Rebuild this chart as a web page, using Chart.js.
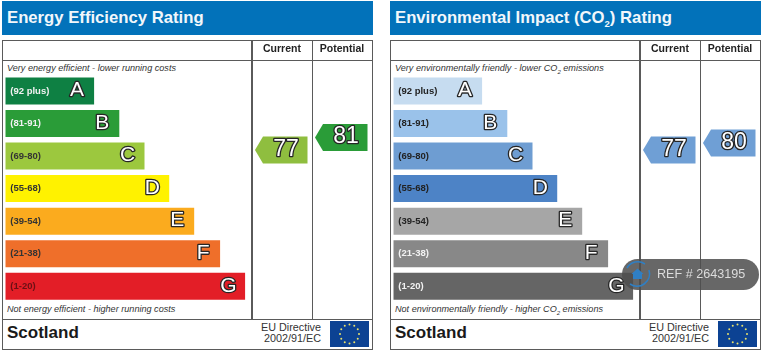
<!DOCTYPE html>
<html>
<head>
<meta charset="utf-8">
<title>EPC ratings</title>
<script src="https://cdn.jsdelivr.net/npm/chart.js@4"></script>
<style>
  html, body { margin: 0; padding: 0; background: #fff; }
  body { width: 768px; height: 355px; overflow: hidden; position: relative; font-family: "Liberation Sans", Arial, sans-serif; }
  .panel { position: absolute; top: 0; width: 375px; height: 355px; }
  .head { position: absolute; left: 2px; top: 1px; width: 371px; height: 34px; background: #0272ba; color: #f2f7fb; font-weight: bold; font-size: 16.7px; line-height: 33px; text-indent: 5px; white-space: nowrap; }
  .head sub { font-size: 9.5px; line-height: 0; }
  .frame { position: absolute; left: 2px; top: 40px; width: 369px; height: 308px; border: 1.5px solid #5a5a5a; }
  .line { position: absolute; background: #5a5a5a; }
  .note { position: absolute; left: 7px; font-style: italic; font-size: 9.1px; color: #333; white-space: nowrap; }
  .note sub { font-size: 6px; line-height: 0; }
  .nation { position: absolute; left: 7px; top: 323px; font-weight: bold; font-size: 17px; color: #1a1a1a; }
  .directive { position: absolute; right: 54px; top: 322px; font-size: 10.8px; line-height: 11px; text-align: right; color: #333; }
  .flag { position: absolute; left: 330px; top: 321px; width: 39px; height: 26px; }
  canvas { position: absolute; }
  .ref { position: absolute; left: 622px; top: 259px; width: 137px; height: 31px; border-radius: 16px; background: rgba(78,78,78,.86); color: #dcdcdc; font-size: 12.6px; line-height: 31px; text-indent: 35px; white-space: nowrap; }
  .ref svg { position: absolute; left: 0; top: 0; }
</style>
</head>
<body>
<script>
const bandRanges = ['(92 plus)', '(81-91)', '(69-80)', '(55-68)', '(39-54)', '(21-38)', '(1-20)'];
const bandLetters = ['A', 'B', 'C', 'D', 'E', 'F', 'G'];
const barLengths = [37, 47.5, 58, 68.3, 78.7, 89.5, 100];
const columnLabels = ['Current', 'Potential'];
const energyScores = [77, 81];
const environmentScores = [77, 80];

const energyBarColors = ['#0e8043', '#2a9c38', '#9cc83e', '#fff200', '#fbab1e', '#ef6f2a', '#e31e27'];
const energyRangeColors = ['#f2f2f2', '#f2f2f2', '#333', '#333', '#333', '#333', '#6b1015'];
const energyArrowColors = ['#8fbe3f', '#2a9c38'];
const envBarColors = ['#c6dcf0', '#9ac2ea', '#6e9dd2', '#4d83c6', '#a6a6a6', '#888888', '#656565'];
const envRangeColors = ['#222', '#222', '#222', '#222', '#222', '#f2f2f2', '#f2f2f2'];
const envArrowColors = ['#6f9fd5', '#6f9fd5'];

const FONT = '"Liberation Sans", Arial, sans-serif';

function outlinedText(ctx, text, x, y, size) {
    ctx.save();
    ctx.font = `${size}px ${FONT}`;
    ctx.textAlign = 'center';
    ctx.textBaseline = 'middle';
    ctx.lineJoin = 'round';
    ctx.lineWidth = 2.6;
    ctx.strokeStyle = '#262626';
    ctx.strokeText(text, x, y);
    ctx.fillStyle = '#fff';
    ctx.fillText(text, x, y);
    ctx.restore();
}

// letters at the end of each bar
const letterPlugin = {
    id: 'letters',
    afterDatasetsDraw(chart) {
        chart.getDatasetMeta(0).data.forEach((bar, i) => {
            outlinedText(chart.ctx, bandLetters[i], bar.x - 17, bar.y - 0.5, 21);
        });
    }
};

// score arrows in the Current / Potential columns
const arrowPlugin = {
    id: 'arrows',
    afterDatasetsDraw(chart, args, opts) {
        const ctx = chart.ctx;
        const dataset = chart.data.datasets[0];
        chart.getDatasetMeta(0).data.forEach((pt, i) => {
            const left = pt.x - 27, right = pt.x + 25.5, top = pt.y - 13.5, bottom = pt.y + 13.5;
            ctx.beginPath();
            ctx.moveTo(left, pt.y);
            ctx.lineTo(left + 8, top);
            ctx.lineTo(right, top);
            ctx.lineTo(right, bottom);
            ctx.lineTo(left + 8, bottom);
            ctx.closePath();
            ctx.fillStyle = opts.colors[i];
            ctx.fill();
            outlinedText(ctx, String(dataset.data[i]), pt.x + 4, pt.y - 0.5, 23);
        });
    }
};

function addPanel(left, cfg) {
    const panel = document.createElement('div');
    panel.className = 'panel';
    panel.style.left = left + 'px';
    panel.innerHTML = `
      <div class="head">${cfg.title}</div>
      <div class="frame"></div>
      <div class="line" style="left:3px;top:59.5px;width:369px;height:1.5px"></div>
      <div class="line" style="left:3px;top:318.5px;width:369px;height:1.5px"></div>
      <div class="line" style="left:251px;top:41px;width:1.5px;height:278px"></div>
      <div class="line" style="left:311.5px;top:41px;width:1.5px;height:278px"></div>
      <div class="note" style="top:63px">${cfg.topNote}</div>
      <div class="note" style="top:303.5px">${cfg.bottomNote}</div>
      <div class="nation">Scotland</div>
      <div class="directive">EU Directive<br>2002/91/EC</div>`;
    panel.appendChild(makeFlag());

    const barCanvas = document.createElement('canvas');
    barCanvas.width = 248; barCanvas.height = 258;
    barCanvas.style.left = '3px'; barCanvas.style.top = '61px';
    panel.appendChild(barCanvas);

    const arrowCanvas = document.createElement('canvas');
    arrowCanvas.width = 120; arrowCanvas.height = 278;
    arrowCanvas.style.left = '252px'; arrowCanvas.style.top = '41px';
    panel.appendChild(arrowCanvas);
    document.body.appendChild(panel);

    new Chart(barCanvas, {
        type: 'bar',
        data: {
            labels: bandRanges,
            datasets: [{
                data: barLengths,
                backgroundColor: cfg.barColors,
                categoryPercentage: 0.83,
                barPercentage: 1
            }]
        },
        options: {
            indexAxis: 'y',
            responsive: false,
            animation: false,
            layout: { padding: { left: 2.3, right: 5.7, top: 13.7, bottom: 16.5 } },
            plugins: { legend: { display: false }, tooltip: { enabled: false } },
            scales: {
                x: { display: false, min: 0, max: 100 },
                y: {
                    border: { display: false },
                    grid: { display: false, drawTicks: false },
                    afterFit: scale => { scale.width = 0; },
                    ticks: {
                        mirror: true,
                        padding: 5,
                        z: 1,
                        font: { family: FONT, size: 9.5, weight: 'bold' },
                        color: c => cfg.rangeColors[c.index]
                    }
                }
            }
        },
        plugins: [letterPlugin]
    });

    new Chart(arrowCanvas, {
        type: 'line',
        data: {
            labels: columnLabels,
            datasets: [{ data: cfg.scores, showLine: false, pointRadius: 0 }]
        },
        options: {
            responsive: false,
            animation: false,
            layout: { padding: 0 },
            plugins: {
                legend: { display: false },
                tooltip: { enabled: false },
                arrows: { colors: cfg.arrowColors }
            },
            scales: {
                x: {
                    position: 'top',
                    offset: true,
                    border: { display: false },
                    grid: { display: false, drawTicks: false },
                    afterFit: scale => { scale.height = 19; },
                    ticks: {
                        padding: 5,
                        maxRotation: 0,
                        font: { family: FONT, size: 10.5, weight: 'bold' },
                        color: '#222'
                    }
                },
                y: { display: false, min: cfg.scoreMin, max: cfg.scoreMax }
            }
        },
        plugins: [arrowPlugin]
    });
}

function makeFlag() {
    const ns = 'http://www.w3.org/2000/svg';
    const svg = document.createElementNS(ns, 'svg');
    svg.setAttribute('class', 'flag');
    svg.setAttribute('viewBox', '0 0 39 26');
    svg.innerHTML = '<rect width="39" height="26" fill="#0c4293"/>';
    for (let i = 0; i < 12; i++) {
        const a = i * Math.PI / 6;
        const dot = document.createElementNS(ns, 'circle');
        dot.setAttribute('cx', 19.5 + 9.5 * Math.cos(a));
        dot.setAttribute('cy', 13 + 9.5 * Math.sin(a));
        dot.setAttribute('r', 1);
        dot.setAttribute('fill', '#e9e26a');
        svg.appendChild(dot);
    }
    return svg;
}

addPanel(0, {
    title: 'Energy Efficiency Rating',
    topNote: 'Very energy efficient - lower running costs',
    bottomNote: 'Not energy efficient - higher running costs',
    barColors: energyBarColors,
    rangeColors: energyRangeColors,
    arrowColors: energyArrowColors,
    scores: energyScores,
    scoreMin: 22.9,
    scoreMax: 105.8
});

addPanel(388, {
    title: 'Environmental Impact (CO<sub>2</sub>) Rating',
    topNote: 'Very environmentally friendly - lower CO<sub>2</sub> emissions',
    bottomNote: 'Not environmentally friendly - higher CO<sub>2</sub> emissions',
    barColors: envBarColors,
    rangeColors: envRangeColors,
    arrowColors: envArrowColors,
    scores: environmentScores,
    scoreMin: 4.6,
    scoreMax: 115.6
});

const ref = document.createElement('div');
ref.className = 'ref';
ref.innerHTML = `<svg width="32" height="31" viewBox="0 0 32 31">
  <path d="M5 9 A12.5 12.5 0 0 1 23 5" fill="none" stroke="#2f7fc4" stroke-width="1.6"/>
  <path d="M27 11 A12.5 12.5 0 0 1 8 25" fill="none" stroke="#2f7fc4" stroke-width="1.6"/>
  <path d="M15.5 9.5 L21.5 15 L20 15 L20 20 L11 20 L11 15 L9.5 15 Z" fill="#2f7fc4"/>
</svg>REF # 2643195`;
document.body.appendChild(ref);
</script>
</body>
</html>
